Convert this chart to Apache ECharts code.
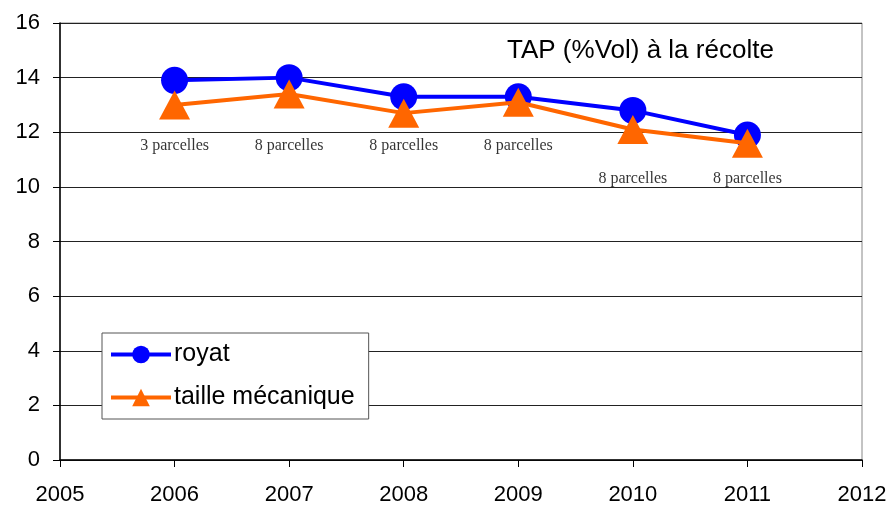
<!DOCTYPE html>
<html>
<head>
<meta charset="utf-8">
<script src="https://cdn.jsdelivr.net/npm/echarts@6/dist/echarts.min.js"></script>
<style>
  html, body { margin: 0; padding: 0; background: #fff; }
  #chart { width: 893px; height: 510px; }
</style>
</head>
<body>
<div id="chart"></div>
<script>
var years = [2006, 2007, 2008, 2009, 2010, 2011];
var royat = [13.9, 14.0, 13.3, 13.3, 12.8, 11.9];
var tailleMeca = [13.0, 13.4, 12.7, 13.1, 12.1, 11.6];
// annotations "n parcelles" sous les points
var parcelLabels = ['3 parcelles', '8 parcelles', '8 parcelles', '8 parcelles', '8 parcelles', '8 parcelles'];
var parcelLabelY = [11.5, 11.5, 11.5, 11.5, 10.3, 10.3];

function pairs(xs, ys) {
  return xs.map(function (x, i) { return [x, ys[i]]; });
}

var chart = echarts.init(document.getElementById('chart'));
chart.setOption({
  animation: false,
  backgroundColor: '#fff',
  title: {
    text: 'TAP (%Vol) à la récolte',
    left: 502,
    top: 33,
    textStyle: { fontFamily: 'Liberation Sans', fontSize: 26, fontWeight: 'normal', color: '#000' }
  },
  legend: {
    left: 102,
    top: 333,
    orient: 'vertical',
    padding: [9, 14, 9, 7],
    itemGap: 18,
    itemWidth: 60,
    itemHeight: 22,
    borderColor: '#555',
    borderWidth: 1,
    backgroundColor: '#fff',
    lineStyle: { width: 4 },
    data: ['royat', 'taille mécanique'],
    textStyle: { fontFamily: 'Liberation Sans', fontSize: 25, color: '#000', padding: [0, 0, 0, -2] }
  },
  grid: {
    left: 60, top: 23, right: 31, bottom: 50,
    show: true, borderColor: '#888', borderWidth: 1
  },
  xAxis: {
    type: 'value',
    min: 2005, max: 2012, interval: 1,
    axisLine: { lineStyle: { color: '#000', width: 1.5 } },
    axisTick: { show: true, length: 7, lineStyle: { color: '#000' } },
    axisLabel: {
      fontFamily: 'Liberation Sans', fontSize: 22, color: '#000', margin: 24,
      formatter: function (v) { return String(v); }
    },
    splitLine: { show: false }
  },
  yAxis: {
    type: 'value',
    min: 0, max: 16, interval: 2,
    axisLine: { show: true, lineStyle: { color: '#000', width: 1.5 } },
    axisTick: { show: true, length: 7, lineStyle: { color: '#000' } },
    axisLabel: { fontFamily: 'Liberation Sans', fontSize: 22, color: '#000', margin: 20 },
    splitLine: { lineStyle: { color: '#222', width: 1 } }
  },
  series: [
    {
      name: 'royat',
      type: 'line',
      data: pairs(years, royat),
      symbol: 'circle',
      symbolSize: 27,
      lineStyle: { color: '#0000FF', width: 4 },
      itemStyle: { color: '#0000FF' },
      z: 3
    },
    {
      name: 'taille mécanique',
      type: 'line',
      data: pairs(years, tailleMeca),
      symbol: 'triangle',
      symbolSize: [31, 29],
      lineStyle: { color: '#FF6600', width: 4 },
      itemStyle: { color: '#FF6600' },
      z: 4
    },
    {
      name: 'parcelles',
      type: 'scatter',
      data: pairs(years, parcelLabelY),
      symbolSize: 0,
      silent: true,
      label: {
        show: true,
        position: 'inside',
        formatter: function (p) { return parcelLabels[p.dataIndex]; },
        fontFamily: 'Liberation Serif',
        fontSize: 16,
        color: '#000'
      },
      z: 5
    }
  ]
});
</script>
</body>
</html>
